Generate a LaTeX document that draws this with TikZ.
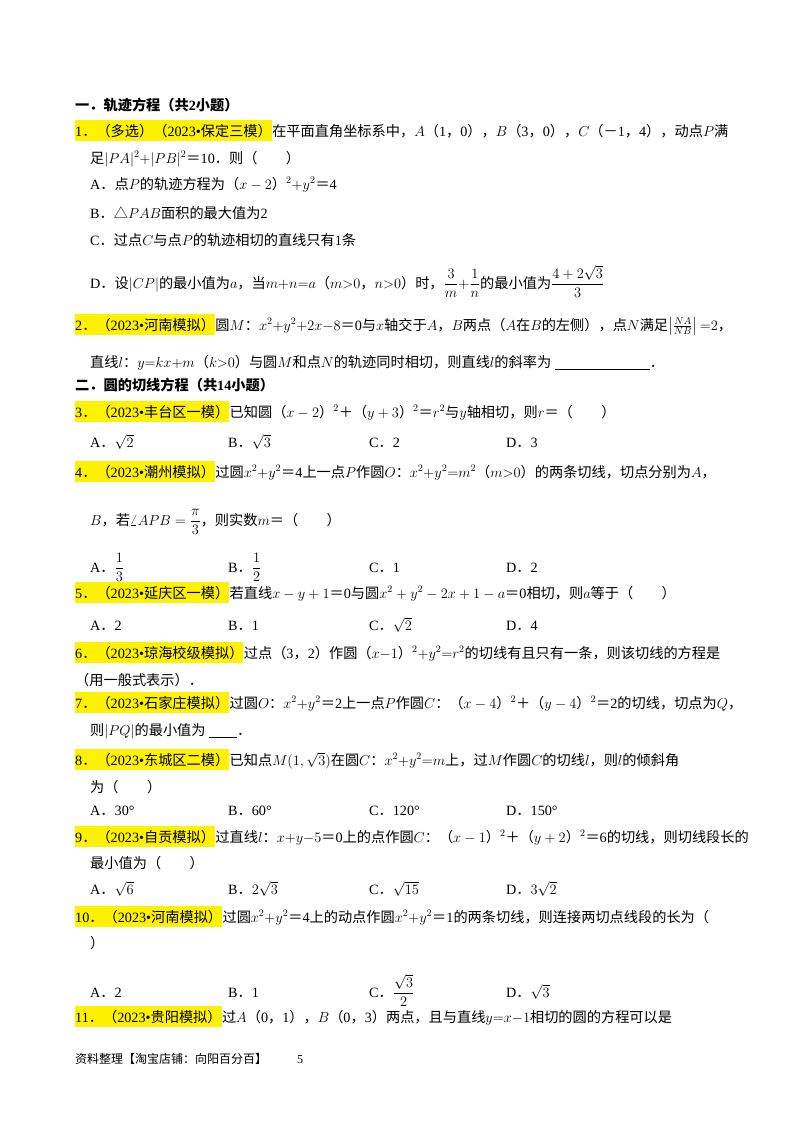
\documentclass[tikz,border=0pt]{standalone}
\usepackage{amsmath}
\usepackage{fontspec}
\setmainfont{Liberation Serif}
\newfontfamily\cjk{Noto Sans CJK SC}
\XeTeXinterchartokenstate=1
\newXeTeXintercharclass\cjkclass
\count255="4E00
\loop\XeTeXcharclass\count255=\cjkclass\advance\count255 1 \ifnum\count255<"A000 \repeat
\count255="FF00
\loop\XeTeXcharclass\count255=\cjkclass\advance\count255 1 \ifnum\count255<"FFF0 \repeat
\count255="3000
\loop\XeTeXcharclass\count255=\cjkclass\advance\count255 1 \ifnum\count255<"3040 \repeat
\XeTeXcharclass"25B3=\cjkclass
\XeTeXinterchartoks 0 \cjkclass = {\begingroup\cjk}
\XeTeXinterchartoks 4095 \cjkclass = {\begingroup\cjk}
\XeTeXinterchartoks \cjkclass 0 = {\endgroup}
\XeTeXinterchartoks \cjkclass 4095 = {\endgroup}
\newcommand\Qline[4]{%
  \node[lab] (#1l) at (75,#2) {#3};
  \node[txt] (#1) at (#1l.base east) {#4};}
\begin{document}
\begin{tikzpicture}[x=1pt,y=-1pt,
  txt/.style={anchor=base west,inner sep=0pt,font=\fontsize{14.2}{17}\selectfont},
  lab/.style={txt,fill=yellow,inner ysep=3.5pt,inner xsep=0pt}]
\useasboundingbox[fill=white] (0,0) rectangle (800,1132);
\node[txt,font=\fontsize{14.2}{17}\selectfont\bfseries] (s1) at (75,110) {一．轨迹方程（共2小题）};
\Qline{q1}{136}{1．（多选）（2023•保定三模）}{在平面直角坐标系中，$A$（1，0），$B$（3，0），$C$（－1，4），动点$P$满}
\node[txt] (q1b) at (90,163) {足$|PA|^2{+}|PB|^2$＝10．则（　　）};
\node[txt] (q1A) at (90,189) {A．点$P$的轨迹方程为（$x-2$）$^2{+}y^2$＝4};
\node[txt] (q1B) at (90,218) {B．△$PAB$面积的最大值为2};
\node[txt] (q1C) at (90,245) {C．过点$C$与点$P$的轨迹相切的直线只有1条};
\node[txt] (q1D) at (90,288) {D．设$|CP|$的最小值为$a$，当$m{+}n{=}a$（$m{>}0$，$n{>}0$）时，$\dfrac{3}{m}{+}\dfrac{1}{n}$的最小值为$\dfrac{4+2\sqrt{3}}{3}$};
\Qline{q2}{330}{2．（2023•河南模拟）}{圆$M$：$x^2{+}y^2{+}2x{-}8$＝0与$x$轴交于$A$，$B$两点（$A$在$B$的左侧），点$N$满足$\left|\tfrac{NA}{NB}\right|{=}2$，}
\node[txt] (q2b) at (90,367) {直线$l$：$y{=}kx{+}m$（$k{>}0$）与圆$M$和点$N$的轨迹同时相切，则直线$l$的斜率为\ \underline{\hspace{95pt}}．};
\node[txt,font=\fontsize{14.2}{17}\selectfont\bfseries] (s2) at (75,390) {二．圆的切线方程（共14小题）};
\Qline{q3}{417}{3．（2023•丰台区一模）}{已知圆（$x-2$）$^2$＋（$y+3$）$^2$＝$r^2$与$y$轴相切，则$r$＝（　　）}
\node[txt] (q3A) at (90,447) {A．$\sqrt{2}$};
\node[txt] (q3B) at (228,447) {B．$\sqrt{3}$};
\node[txt] (q3C) at (369,447) {C．2};
\node[txt] (q3D) at (506,447) {D．3};
\Qline{q4}{477}{4．（2023•潮州模拟）}{过圆$x^2{+}y^2$＝4上一点$P$作圆$O$：$x^2{+}y^2{=}m^2$（$m{>}0$）的两条切线，切点分别为$A$，}
\node[txt] (q4b) at (90,525) {$B$，若$\angle APB=\dfrac{\pi}{3}$，则实数$m$＝（　　）};
\node[txt] (q4A) at (90,572) {A．$\dfrac{1}{3}$};
\node[txt] (q4B) at (228,572) {B．$\dfrac{1}{2}$};
\node[txt] (q4C) at (369,572) {C．1};
\node[txt] (q4D) at (506,572) {D．2};
\Qline{q5}{598}{5．（2023•延庆区一模）}{若直线$x-y+1$＝0与圆$x^2+y^2-2x+1-a$＝0相切，则$a$等于（　　）}
\node[txt] (q5A) at (90,630) {A．2};
\node[txt] (q5B) at (228,630) {B．1};
\node[txt] (q5C) at (369,630) {C．$\sqrt{2}$};
\node[txt] (q5D) at (506,630) {D．4};
\Qline{q6}{658}{6．（2023•琼海校级模拟）}{过点（3，2）作圆（$x{-}1$）$^2{+}y^2{=}r^2$的切线有且只有一条，则该切线的方程是}
\node[txt] (q6b) at (75,685) {（用一般式表示）．};
\Qline{q7}{708}{7．（2023•石家庄模拟）}{过圆$O$：$x^2{+}y^2$＝2上一点$P$作圆$C$：（$x-4$）$^2$＋（$y-4$）$^2$＝2的切线，切点为$Q$，}
\node[txt] (q7b) at (90,735) {则$|PQ|$的最小值为\ \underline{\hspace{28pt}}．};
\Qline{q8}{765}{8．（2023•东城区二模）}{已知点$M(1,\sqrt{3})$在圆$C$：$x^2{+}y^2{=}m$上，过$M$作圆$C$的切线$l$，则$l$的倾斜角}
\node[txt] (q8b) at (90,792) {为（　　）};
\node[txt] (q8A) at (90,815) {A．30°};
\node[txt] (q8B) at (228,815) {B．60°};
\node[txt] (q8C) at (369,815) {C．120°};
\node[txt] (q8D) at (506,815) {D．150°};
\Qline{q9}{842}{9．（2023•自贡模拟）}{过直线$l$：$x{+}y{-}5$＝0上的点作圆$C$：（$x-1$）$^2$＋（$y+2$）$^2$＝6的切线，则切线段长的}
\node[txt] (q9b) at (90,868) {最小值为（　　）};
\node[txt] (q9A) at (90,894) {A．$\sqrt{6}$};
\node[txt] (q9B) at (228,894) {B．$2\sqrt{3}$};
\node[txt] (q9C) at (369,894) {C．$\sqrt{15}$};
\node[txt] (q9D) at (506,894) {D．$3\sqrt{2}$};
\Qline{q10}{922}{10．（2023•河南模拟）}{过圆$x^2{+}y^2$＝4上的动点作圆$x^2{+}y^2$＝1的两条切线，则连接两切点线段的长为（}
\node[txt] (q10b) at (90,948) {）};
\node[txt] (q10A) at (90,997) {A．2};
\node[txt] (q10B) at (228,997) {B．1};
\node[txt] (q10C) at (369,997) {C．$\dfrac{\sqrt{3}}{2}$};
\node[txt] (q10D) at (506,997) {D．$\sqrt{3}$};
\Qline{q11}{1022}{11．（2023•贵阳模拟）}{过$A$（0，1），$B$（0，3）两点，且与直线$y{=}x{-}1$相切的圆的方程可以是}
\node[txt,font=\fontsize{12}{14}\selectfont] (ft) at (75,1063) {资料整理【淘宝店铺：向阳百分百】\hspace{30pt}5};
\end{tikzpicture}
\end{document}
